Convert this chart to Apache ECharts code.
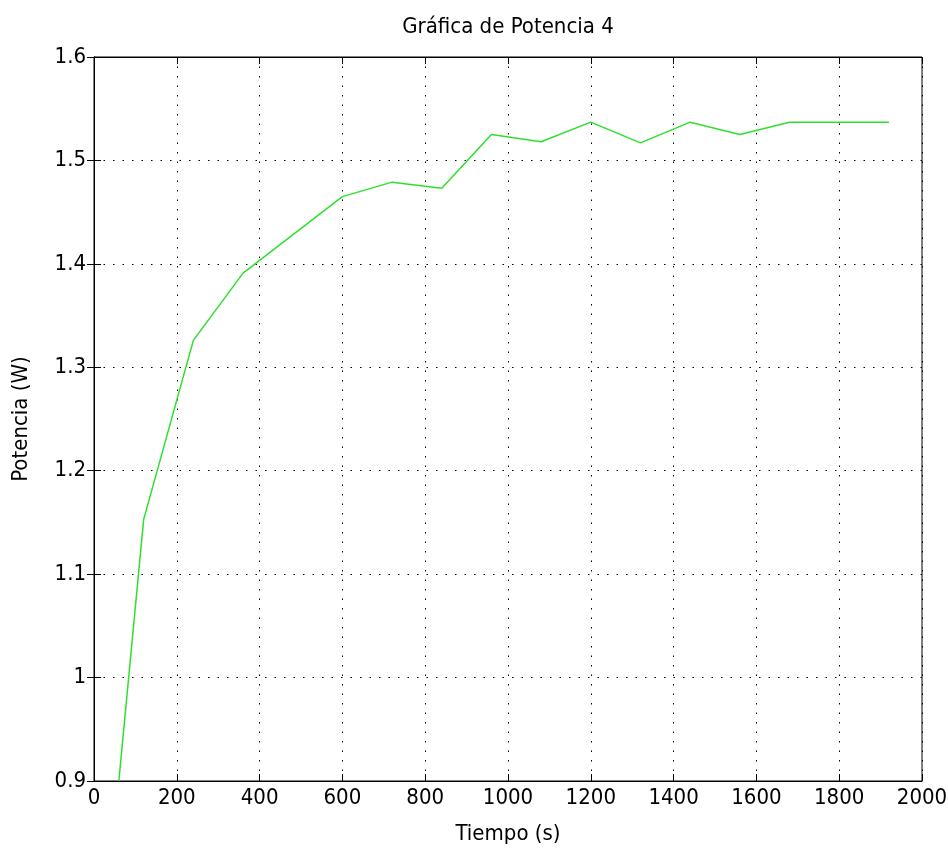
<!DOCTYPE html>
<html>
<head>
<meta charset="utf-8">
<script src="https://cdn.jsdelivr.net/npm/echarts@6/dist/echarts.min.js"></script>
<style>
  html, body { margin: 0; padding: 0; background: #fff; overflow: hidden; }
  #chart01 { width: 948px; height: 850px; }
</style>
</head>
<body>
<div id="chart01"></div>
<script>
// datos
var tiempo   = [60, 120, 240, 360, 480, 600, 720, 840, 960, 1080, 1200, 1320, 1440, 1560, 1680, 1800, 1920];
var potencia = [0.9, 1.153, 1.326, 1.391, 1.428, 1.465, 1.479, 1.473, 1.525, 1.518, 1.537, 1.517, 1.537, 1.525, 1.537, 1.537, 1.537];
var ticksX   = [0, 200, 400, 600, 800, 1000, 1200, 1400, 1600, 1800, 2000];
var ticksY   = [0.9, 1, 1.1, 1.2, 1.3, 1.4, 1.5, 1.6];

var fuente = "'Liberation Sans Narrow', 'DejaVu Sans Condensed', 'Liberation Sans', sans-serif";

var puntos = [];
tiempo.forEach(function (t, i) {
    puntos.push([t, potencia[i]]);
});

var cha01 = echarts.init(document.getElementById('chart01'));

var lineaGrid = { show: true, lineStyle: { color: '#000', type: [1.5, 8], width: 1 } };
var tickDentro = { show: true, inside: true, length: 7, lineStyle: { color: '#000', width: 1 } };

var opt01 = {
    animation: false,
    title: {
        text: 'Gráfica de Potencia 4',
        left: 503,
        top: 11,
        textAlign: 'center',
        textStyle: { fontFamily: fuente, fontSize: 22, fontWeight: 'normal', color: '#000' }
    },
    grid: {
        left: 94, right: 26, top: 57, bottom: 69,
        outerBoundsMode: 'none',
        show: true, borderColor: '#000', borderWidth: 1, backgroundColor: '#fff'
    },
    xAxis: [
        {
            type: 'value',
            min: 0, max: 2000, interval: 200,
            name: 'Tiempo (s)',
            nameLocation: 'middle',
            nameGap: 42,
            nameTextStyle: { fontFamily: fuente, fontSize: 22, color: '#000' },
            axisLine: { show: true, lineStyle: { color: '#000' } },
            axisTick: tickDentro,
            axisLabel: {
                fontFamily: fuente, fontSize: 22, color: '#000', margin: 6,
                formatter: function (v) { return String(v); }
            },
            splitLine: lineaGrid
        },
        {
            type: 'value', position: 'top',
            min: 0, max: 2000, interval: 200,
            axisLine: { show: true, lineStyle: { color: '#000' } },
            axisTick: tickDentro,
            axisLabel: { show: false },
            splitLine: { show: false }
        }
    ],
    yAxis: [
        {
            type: 'value',
            min: 0.9, max: 1.6, interval: 0.1,
            name: 'Potencia (W)',
            nameLocation: 'middle',
            nameGap: 62,
            nameTextStyle: { fontFamily: fuente, fontSize: 22, color: '#000' },
            axisLine: { show: true, lineStyle: { color: '#000' } },
            axisTick: tickDentro,
            axisLabel: {
                fontFamily: fuente, fontSize: 22, color: '#000', margin: 8,
                formatter: function (v) { return String(Math.round(v * 10) / 10); }
            },
            splitLine: lineaGrid
        },
        {
            type: 'value', position: 'right',
            min: 0.9, max: 1.6, interval: 0.1,
            axisLine: { show: true, lineStyle: { color: '#000' } },
            axisTick: tickDentro,
            axisLabel: { show: false },
            splitLine: { show: false }
        }
    ],
    series: [
        {
            name: 'Potencia',
            type: 'line',
            data: puntos,
            showSymbol: false,
            lineStyle: { color: '#2ee02e', width: 1.5 },
            itemStyle: { color: '#2ee02e' }
        }
    ]
};

cha01.setOption(opt01);
</script>
</body>
</html>
